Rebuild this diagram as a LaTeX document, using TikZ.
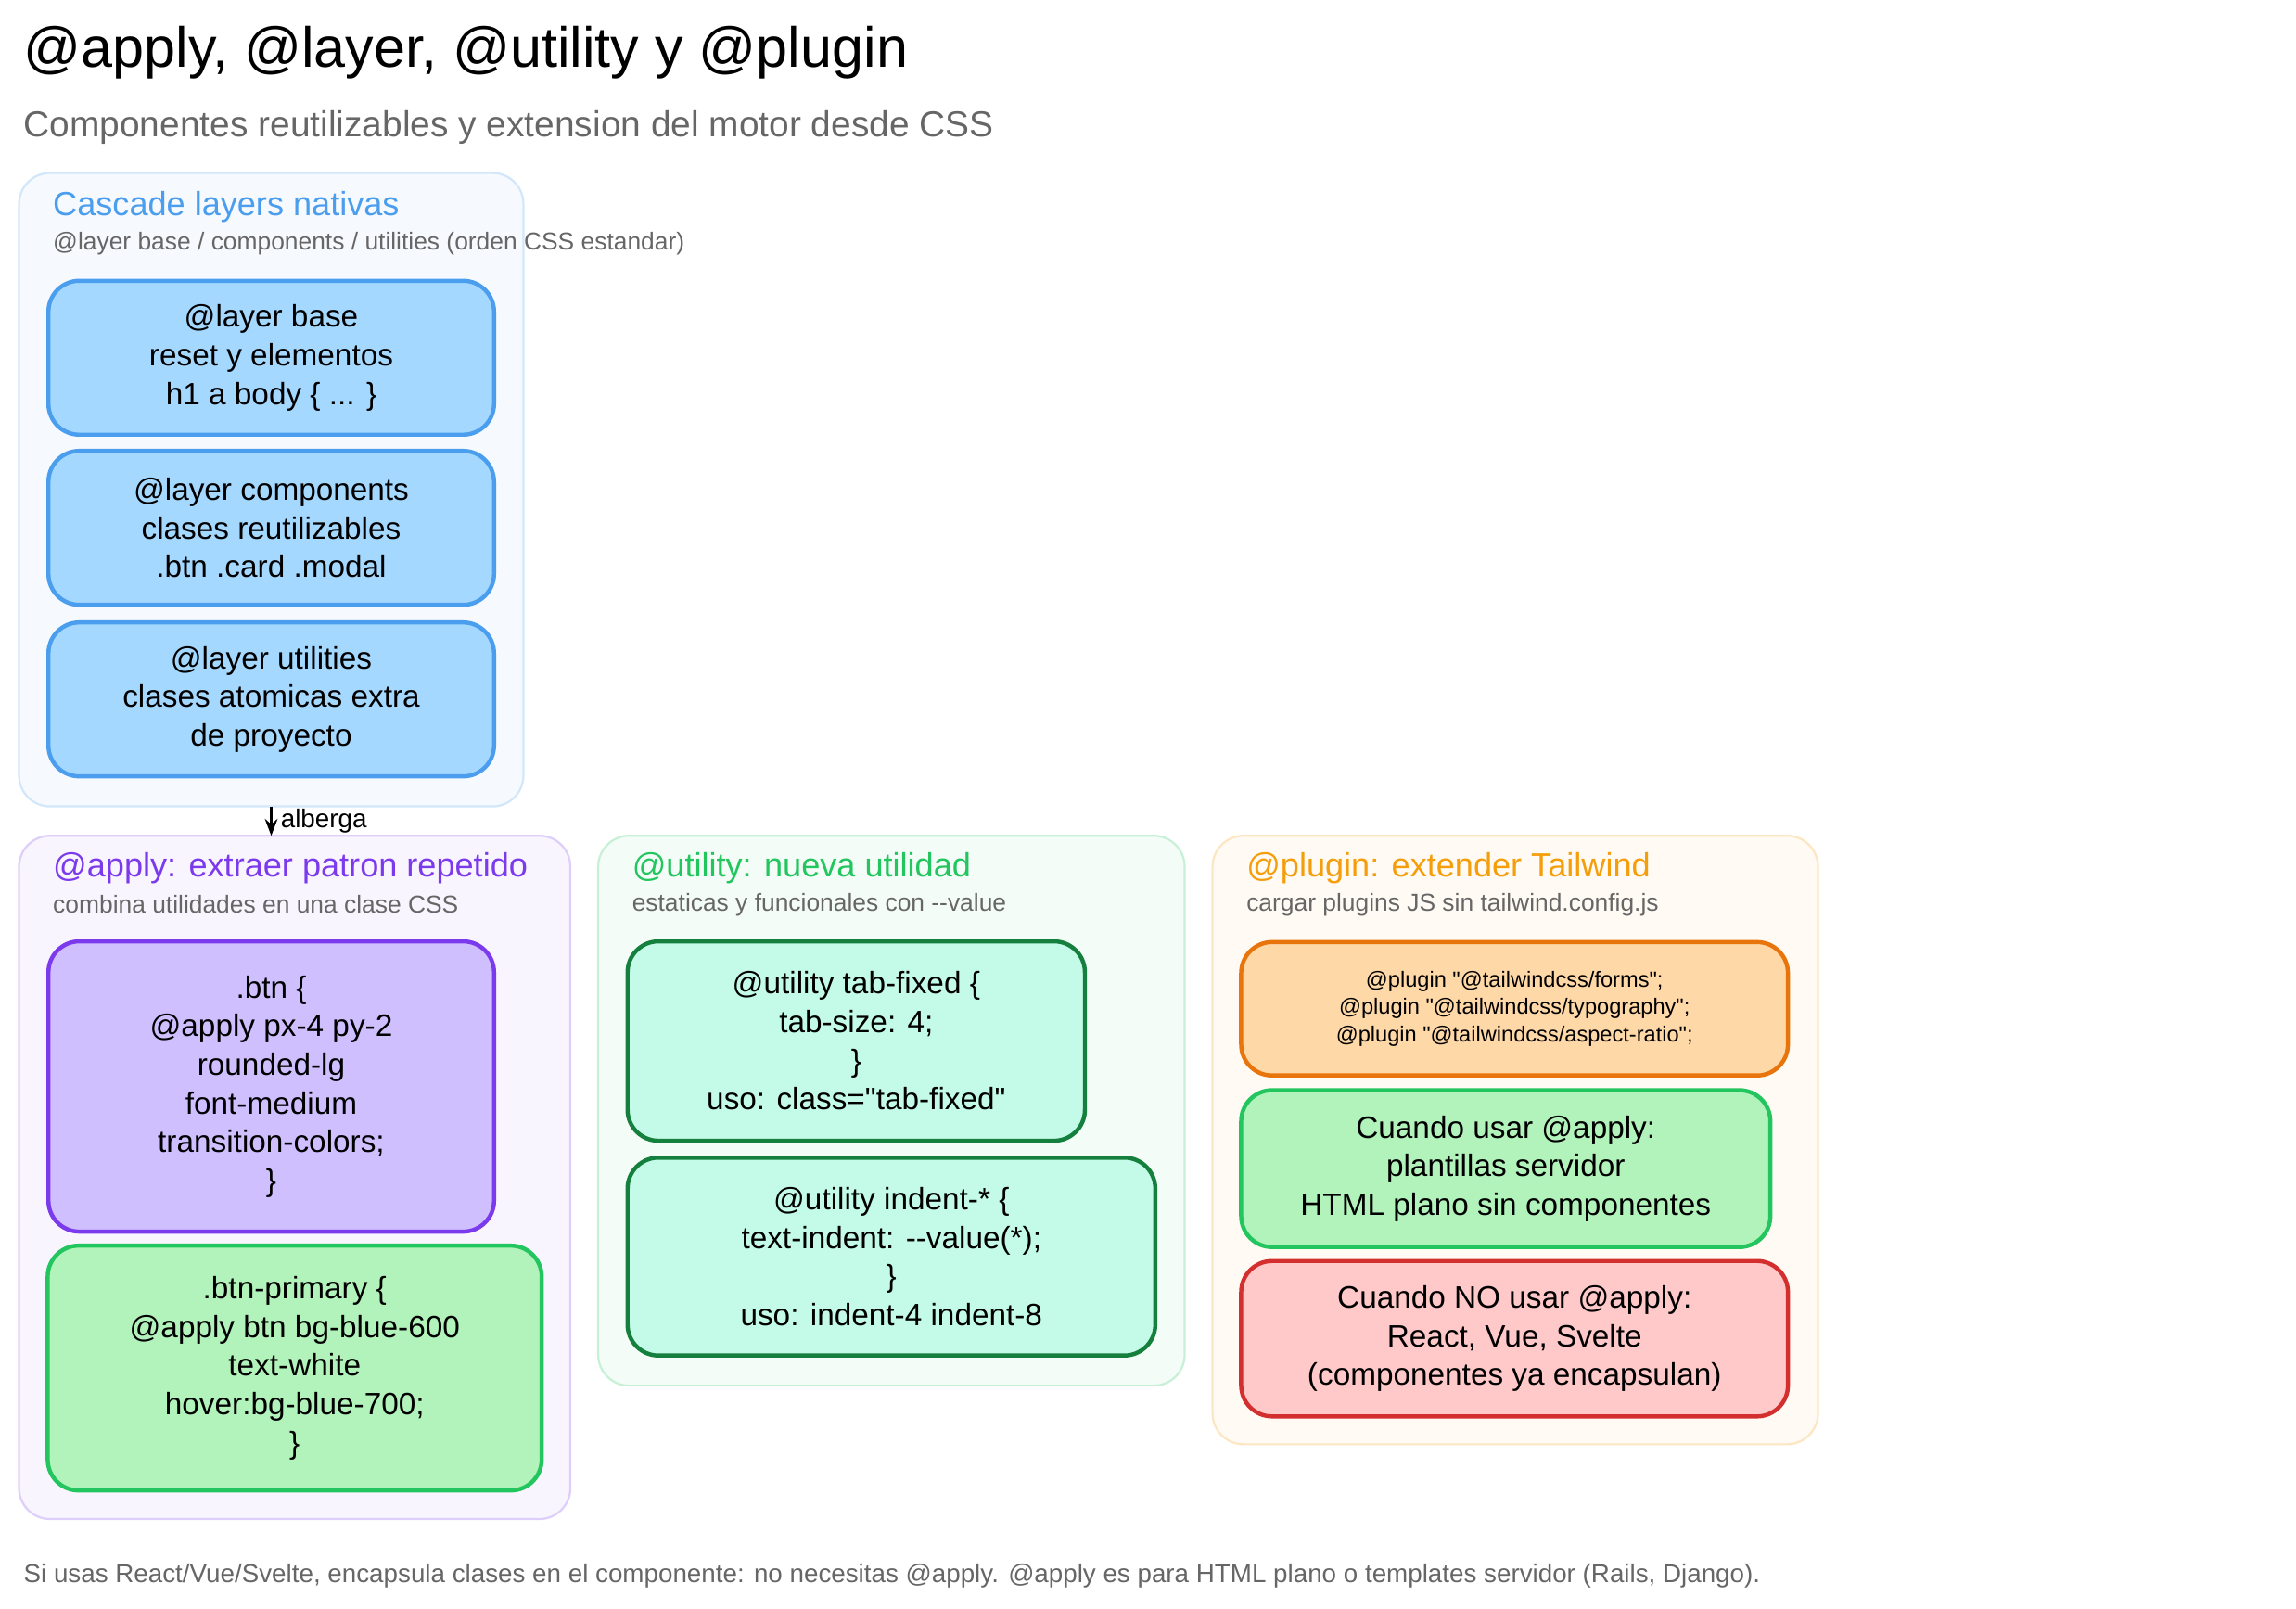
\documentclass[tikz,border=0pt]{standalone}
\usepackage{fontspec}
\setmainfont{Liberation Sans}[Ligatures=TeXOff]
\usepackage{xcolor}
\usetikzlibrary{arrows.meta,positioning}
\definecolor{blueTxt}{HTML}{4A9EED}
\definecolor{blueFill}{HTML}{A5D8FF}
\definecolor{purpleTxt}{HTML}{7C3AED}
\definecolor{purpleFill}{HTML}{D0BFFF}
\definecolor{greenTxt}{HTML}{22C55E}
\definecolor{greenFill}{HTML}{B2F2BB}
\definecolor{tealFill}{HTML}{C3FAE8}
\definecolor{tealLine}{HTML}{15803D}
\definecolor{orangeTxt}{HTML}{F59E0B}
\definecolor{orangeFill}{HTML}{FFD8A8}
\definecolor{orangeLine}{HTML}{E8740C}
\definecolor{redFill}{HTML}{FFC9C9}
\definecolor{redLine}{HTML}{D32F2F}
\definecolor{grayTxt}{HTML}{666666}

\begin{document}
\begin{tikzpicture}[
    x=0.02cm, y=-0.02cm,
    panel/.style={draw=#1!25, fill=#1!5, rounded corners=12pt, line width=0.8pt},
    box/.style={rectangle, draw=#1, line width=1.6pt, rounded corners=12pt, align=center,
        font=\fontsize{12}{15}\selectfont},
    ptitle/.style={anchor=west, font=\fontsize{13}{15}\selectfont},
    psub/.style={anchor=west, text=grayTxt, font=\fontsize{9.5}{11}\selectfont},
    arrow/.style={-{Stealth}, thick}
]
    \useasboundingbox (0,0) rectangle (1566,1097);
    % Title
    \node[anchor=west, font=\fontsize{22}{26}\selectfont] (title) at (10,36) {@apply, @layer, @utility y @plugin};
    \node[anchor=west, text=grayTxt, font=\fontsize{14}{17}\selectfont] (subtitle) at (10,87) {Componentes reutilizables y extension del motor desde CSS};

    % Cascade layers
    \draw[panel=blueTxt] (13,118) rectangle (357,550);
    \node[ptitle, text=blueTxt] (layersT) at (30,141) {Cascade layers nativas};
    \node[psub] (layersS) at (30,166) {@layer base / components / utilities (orden CSS estandar)};
    \node[box=blueTxt, fill=blueFill, minimum width=6.08cm, minimum height=2.1cm] (base) at (185,244) {@layer base\\reset y elementos\\h1 a body \{ ... \}};
    \node[box=blueTxt, fill=blueFill, minimum width=6.08cm, minimum height=2.1cm] (comp) at (185,360) {@layer components\\clases reutilizables\\.btn .card .modal};
    \node[box=blueTxt, fill=blueFill, minimum width=6.08cm, minimum height=2.1cm] (util) at (185,477) {@layer utilities\\clases atomicas extra\\de proyecto};
    \coordinate (layersB) at (185,550);

    % @apply
    \draw[panel=purpleTxt] (13,570) rectangle (389,1036);
    \coordinate (applyT) at (185,570);
    \node[ptitle, text=purpleTxt] (applyH) at (30,592) {@apply: extraer patron repetido};
    \node[psub] (applyS) at (30,617) {combina utilidades en una clase CSS};
    \node[box=purpleTxt, fill=purpleFill, minimum width=6.08cm, minimum height=3.96cm] (btn) at (185,741) {.btn \{\\@apply px-4 py-2\\rounded-lg\\font-medium\\transition-colors;\\\}};
    \node[box=greenTxt, fill=greenFill, minimum width=6.74cm, minimum height=3.34cm] (btnp) at (201,933) {.btn-primary \{\\@apply btn bg-blue-600\\text-white\\hover:bg-blue-700;\\\}};
    \draw[arrow] (layersB) -- node[right, font=\fontsize{10}{12}\selectfont] {alberga} (applyT);

    % @utility
    \draw[panel=greenTxt] (408,570) rectangle (808,945);
    \node[ptitle, text=greenTxt] (utilH) at (425,592) {@utility: nueva utilidad};
    \node[psub] (utilS) at (425,617) {estaticas y funcionales con --value};
    \node[box=tealLine, fill=tealFill, minimum width=6.24cm, minimum height=2.72cm] (tab) at (584,710) {@utility tab-fixed \{\\tab-size: 4;\\\}\\uso: class="tab-fixed"};
    \node[box=tealLine, fill=tealFill, minimum width=7.2cm, minimum height=2.7cm] (indent) at (608,857) {@utility indent-* \{\\text-indent: --value(*);\\\}\\uso: indent-4 indent-8};

    % @plugin
    \draw[panel=orangeTxt] (827,570) rectangle (1240,985);
    \node[ptitle, text=orangeTxt] (plugH) at (844,592) {@plugin: extender Tailwind};
    \node[psub] (plugS) at (844,617) {cargar plugins JS sin tailwind.config.js};
    \node[box=orangeLine, fill=orangeFill, minimum width=7.46cm, minimum height=1.82cm, font=\fontsize{8.5}{10.5}\selectfont] (plugins) at (1033,688) {@plugin "@tailwindcss/forms";\\@plugin "@tailwindcss/typography";\\@plugin "@tailwindcss/aspect-ratio";};
    \node[box=greenTxt, fill=greenFill, minimum width=7.22cm, minimum height=2.14cm] (usar) at (1027,797) {Cuando usar @apply:\\plantillas servidor\\HTML plano sin componentes};
    \node[box=redLine, fill=redFill, minimum width=7.46cm, minimum height=2.12cm] (nousar) at (1033,913) {Cuando NO usar @apply:\\React, Vue, Svelte\\(componentes ya encapsulan)};

    % Footer
    \node[anchor=west, text=grayTxt, font=\fontsize{10}{12}\selectfont] (footer) at (10,1075) {Si usas React/Vue/Svelte, encapsula clases en el componente: no necesitas @apply. @apply es para HTML plano o templates servidor (Rails, Django).};
\end{tikzpicture}
\end{document}
